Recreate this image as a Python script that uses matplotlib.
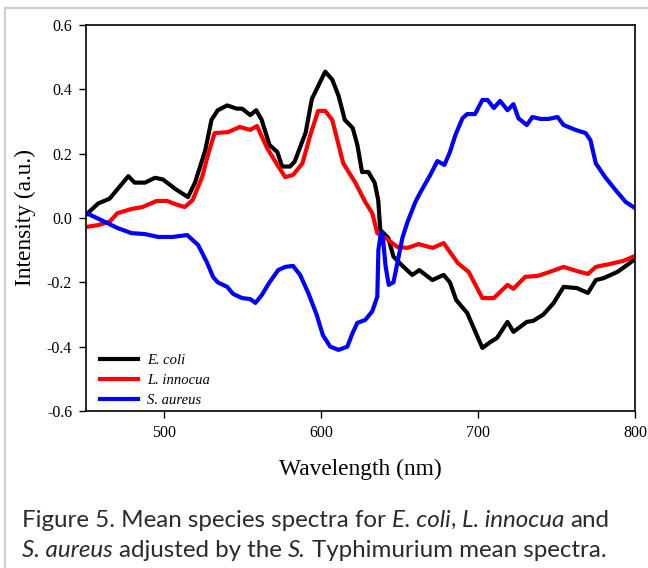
import matplotlib
matplotlib.use("Agg")
from matplotlib import pyplot as plt
from matplotlib.lines import Line2D

# E. coli
ecoli_wl = [450, 457.7, 465, 477, 481, 487.6, 494, 499, 507, 515, 519.5, 526, 530, 534, 540,
            546, 549.5, 554.7, 558.5, 562, 567, 572, 575, 580, 583, 590, 594, 598, 602.5, 607,
            611, 615, 620, 623, 626, 630, 634, 636.3, 637.6, 642.7, 646, 652, 658, 662.5, 670.8,
            678, 682, 686, 693, 697, 702.7, 708, 712, 718.7, 722.5, 731, 735, 741.6, 748, 754.5,
            763, 770, 775, 780, 789, 795, 800]
ecoli_val = [0.01, 0.045, 0.06, 0.13, 0.11, 0.11, 0.125, 0.12, 0.09, 0.065, 0.11, 0.21, 0.305, 0.335, 0.35,
             0.34, 0.34, 0.32, 0.335, 0.305, 0.227, 0.205, 0.16, 0.16, 0.175, 0.265, 0.37, 0.41, 0.455, 0.43,
             0.38, 0.305, 0.28, 0.227, 0.143, 0.143, 0.11, 0.056, -0.037, -0.062, -0.12, -0.15, -0.177, -0.162, -0.193,
             -0.177, -0.2, -0.255, -0.295, -0.34, -0.404, -0.385, -0.373, -0.323, -0.354, -0.323, -0.32, -0.30, -0.265, -0.214,
             -0.218, -0.233, -0.193, -0.187, -0.167, -0.146, -0.128]

# L. innocua
linn_wl = [450, 457.7, 465, 470, 479, 486, 495, 501.7, 507, 513, 518, 524, 528, 532, 540.6,
           548, 554.7, 559, 565.5, 572, 577, 582, 588, 593, 598, 602.5, 607, 614, 621.7, 628,
           632.5, 635.7, 641, 648.5, 655, 662, 671, 678, 687, 694, 702.7, 710, 718.7, 722.5, 730,
           738, 746, 754.5, 763, 770, 775, 784, 792.7, 800]
linn_val = [-0.028, -0.022, -0.012, 0.015, 0.028, 0.034, 0.053, 0.053, 0.043, 0.034, 0.056, 0.127, 0.2, 0.264, 0.267,
            0.283, 0.274, 0.286, 0.217, 0.165, 0.127, 0.134, 0.17, 0.258, 0.333, 0.333, 0.305, 0.17, 0.11, 0.05,
            0.015, -0.047, -0.062, -0.09, -0.093, -0.081, -0.093, -0.078, -0.14, -0.168, -0.249, -0.249, -0.208, -0.22, -0.183,
            -0.18, -0.167, -0.152, -0.165, -0.174, -0.152, -0.143, -0.133, -0.118]

# S. aureus
saur_wl = [450, 462, 470, 479, 487.6, 496, 505, 514.5, 521.5, 527, 531, 534, 540, 543.8, 549.5,
           554.7, 558, 562, 567, 572.5, 577, 582, 586.5, 591.7, 597, 601, 605.7, 611, 616.6, 620,
           623, 628, 632.5, 635.7, 636.4, 638, 639, 641, 643, 646, 648.5, 651.7, 655, 660, 663,
           669.5, 674, 678.5, 682, 685.5, 690, 693, 698, 702.7, 706, 710, 714, 718.7, 722.5, 725.7,
           731, 734.6, 739.7, 745, 750.6, 754.5, 762, 768.5, 771.6, 775, 781, 787.6, 794, 800]
saur_val = [0.016, -0.012, -0.031, -0.047, -0.05, -0.059, -0.059, -0.053, -0.084, -0.137, -0.183, -0.2, -0.214, -0.236, -0.249,
            -0.252, -0.264, -0.24, -0.2, -0.162, -0.152, -0.149, -0.177, -0.233, -0.30, -0.364, -0.40, -0.41, -0.40, -0.357,
            -0.326, -0.317, -0.29, -0.245, -0.1, -0.047, -0.047, -0.15, -0.208, -0.2, -0.14, -0.062, -0.012, 0.05, 0.078,
            0.134, 0.177, 0.165, 0.205, 0.258, 0.31, 0.323, 0.323, 0.367, 0.367, 0.342, 0.364, 0.335, 0.354, 0.31,
            0.289, 0.314, 0.308, 0.308, 0.314, 0.289, 0.274, 0.264, 0.242, 0.17, 0.127, 0.087, 0.05, 0.031]

x_ticks = [500, 600, 700, 800]
y_ticks = [-0.6, -0.4, -0.2, 0.0, 0.2, 0.4, 0.6]

# caption pieces: (text, italic[, no space before])
caption_lines = [
    [('Figure 5. Mean species spectra for', False), ('E. coli', True), (',', False, 'nospace'),
     ('L. innocua', True), ('and', False)],
    [('S. aureus', True), ('adjusted by the', False), ('S.', True), ('Typhimurium mean spectra.', False)],
]

serif = ['Liberation Serif', 'DejaVu Serif']

fig = plt.figure(figsize=(6.48, 5.68), dpi=100)
ax = fig.add_axes([86 / 648, 1 - 411 / 568, 549 / 648, 386 / 568])

ax.plot(ecoli_wl, ecoli_val, color='black', lw=3, label='E. coli', solid_joinstyle='round')
ax.plot(linn_wl, linn_val, color='red', lw=3, label='L. innocua', solid_joinstyle='round')
ax.plot(saur_wl, saur_val, color='blue', lw=3, label='S. aureus', solid_joinstyle='round')

ax.set_xlim(450, 800)
ax.set_ylim(-0.6, 0.6)
ax.set_xticks(x_ticks)
ax.set_yticks(y_ticks)
ax.set_yticklabels(['%.1f' % v for v in y_ticks])
ax.tick_params(direction='out', length=5, width=1, top=False, right=False, pad=5)
for lab in ax.get_xticklabels() + ax.get_yticklabels():
    lab.set_family(serif)
    lab.set_fontsize(11.5)
for s in ax.spines.values():
    s.set_linewidth(1.2)

ax.set_xlabel('Wavelength (nm)', family=serif, fontsize=16.8, labelpad=13)
ax.set_ylabel('Intensity (a.u.)', family=serif, fontsize=16.8, labelpad=8)

leg = ax.legend(loc='lower left', bbox_to_anchor=(0.018, 0.0), frameon=False,
                prop={'family': serif, 'style': 'italic', 'size': 10.5},
                handlelength=2.6, labelspacing=0.45, borderaxespad=0.0, borderpad=0.3,
                handletextpad=0.6)

# frame of the page around the figure
fig.add_artist(Line2D([5 / 648, 1], [1 - 8 / 568, 1 - 8 / 568], color='#cccccc', lw=1.5))
fig.add_artist(Line2D([5 / 648, 5 / 648], [0, 1 - 8 / 568], color='#cccccc', lw=1.5))

# caption, written piece by piece so the species names are italic
renderer = fig.canvas.get_renderer()
cap_size = 17.4
probe = fig.text(0, 0, 'x x', family='Lato', fontsize=cap_size)
w1 = probe.get_window_extent(renderer).width
probe.set_text('xx')
space_w = w1 - probe.get_window_extent(renderer).width
probe.remove()

baselines = [527, 557]
for line, base in zip(caption_lines, baselines):
    x = 22.0
    for i, piece in enumerate(line):
        txt, ital = piece[0], piece[1]
        if i > 0 and len(piece) == 2:
            x += space_w
        t = fig.text(x / 648, 1 - base / 568, txt, family='Lato', fontsize=cap_size,
                     style='italic' if ital else 'normal', color='#2b2b2b', va='baseline')
        x += t.get_window_extent(renderer).width

plt.savefig('out.png', dpi=100)
